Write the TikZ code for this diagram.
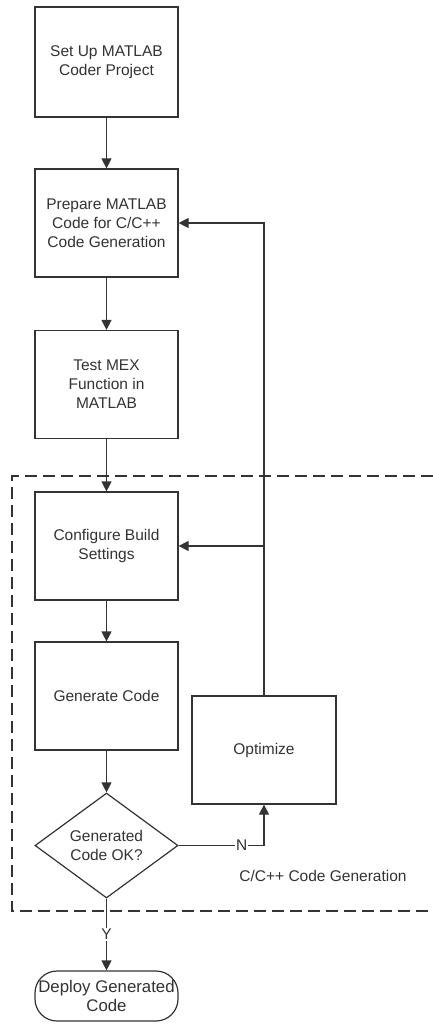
\documentclass[tikz,border=0pt]{standalone}
\usepackage{fontspec}
\setmainfont{Liberation Sans}
\usetikzlibrary{arrows.meta,shapes.geometric}
\definecolor{ink}{HTML}{333333}
\begin{document}
\begin{tikzpicture}[x=1pt,y=-1pt,
  every node/.style={font=\fontsize{15.5}{19}\selectfont, text=ink},
  box/.style={draw=ink, line width=1.2pt, rectangle, minimum width=143pt, minimum height=108pt, align=center, inner sep=0pt},
  decision/.style={draw=ink, line width=1.2pt, diamond, minimum width=143pt, minimum height=105pt, aspect=1.36, align=center, inner sep=0pt},
  terminal/.style={draw=ink, line width=1.2pt, rectangle, rounded corners=22pt, minimum width=143pt, minimum height=50pt, align=center, inner sep=0pt},
  arr/.style={draw=ink, line width=1.2pt, -{Triangle[length=10pt,width=10pt]}},
  lbl/.style={fill=white, inner sep=1pt}
]
\useasboundingbox (0,0) rectangle (433,1024);
\fill[white] (0,0) rectangle (433,1024);

% dashed frame
\draw[ink, line width=1.2pt, dash pattern=on 12pt off 6pt] (433,476) -- (12,476) -- (12,911) -- (433,911);

\node[box, minimum height=110pt] (b1) at (106.5,62) {Set Up MATLAB\\Coder Project};
\node[box] (b2) at (106.5,223) {Prepare MATLAB\\Code for C/C++\\Code Generation};
\node[box] (b3) at (106.5,384.5) {Test MEX\\Function in\\MATLAB};
\node[box] (b4) at (106.5,546) {Configure Build\\Settings};
\node[box] (b5) at (106.5,696) {Generate Code};
\node[box, minimum width=144pt] (opt) at (264,750) {Optimize};
\node[decision] (dec) at (106.5,845.5) {Generated\\Code OK?};
\node[terminal, font=\fontsize{16.8}{19}\selectfont] (dep) at (106.5,996) {Deploy Generated\\Code};
\node (grp) at (323,876) {C/C++ Code Generation};

\draw[arr] (b1) -- (b2);
\draw[arr] (b2) -- (b3);
\draw[arr] (b3) -- (b4);
\draw[arr] (b4) -- (b5);
\draw[arr] (b5) -- (dec);
\draw[arr] (dec) -- node[lbl]{Y} (dep);
\draw[arr] (dec.east) -- node[lbl, pos=0.74]{N} (dec.east -| opt.south) -- (opt.south);
\draw[arr] (opt.north) -- (opt.north |- b2.east) -- (b2.east);
\draw[arr] (opt.north |- b4.east) -- (b4.east);
\end{tikzpicture}
\end{document}
